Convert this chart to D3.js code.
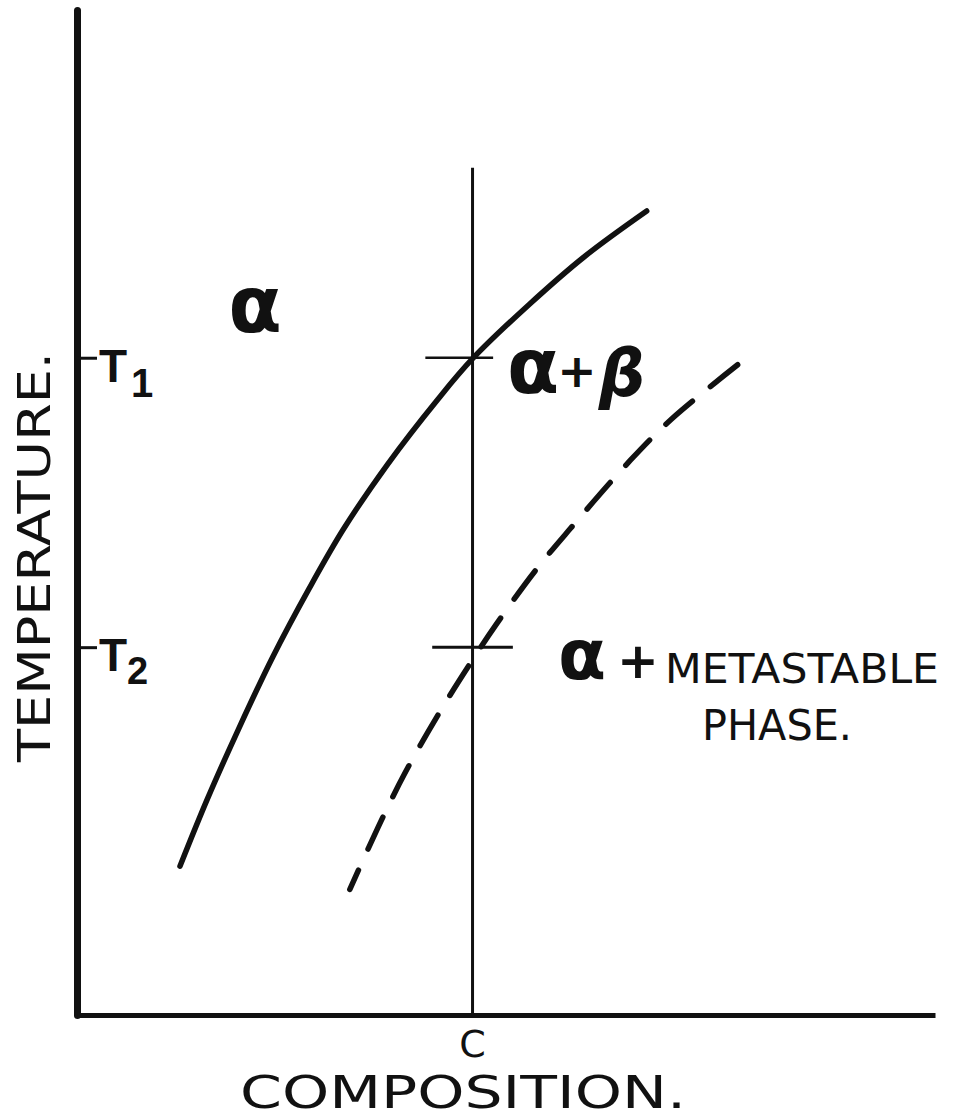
<!DOCTYPE html>
<html>
<head>
<meta charset="utf-8">
<script src="https://cdn.jsdelivr.net/npm/d3@7"></script>
<style>
  html, body { margin: 0; padding: 0; background: #fff; }
  svg { display: block; }
  text { fill: #111; }
</style>
</head>
<body>
<div id="chart"></div>
<script>
// ---------- data (schematic units: composition 0-100, temperature 0-100) ----------
const tempTickLabels = ["T", "T"];
const tempTickSubs = ["1", "2"];
const tempTickValues = [65.4, 36.6];
const compTickLabels = ["C"];
const compTickValues = [46.1];
const compLineTop = 84.3;

// equilibrium solvus (solid)
const solidComp = [66.4, 59.2, 52.7, 46.1, 42.0, 36.2, 31.1, 27.1, 22.8, 18.8, 15.2, 12.0];
const solidTemp = [80.0, 75.5, 70.7, 65.3, 61.2, 54.8, 48.4, 42.5, 35.6, 28.4, 21.5, 14.8];
// metastable solvus (dashed)
const dashComp = [77.0, 69.3, 64.5, 57.5, 53.5, 48.8, 46.3, 42.6, 38.3, 35.1, 31.8];
const dashTemp = [64.7, 59.3, 55.2, 48.4, 44.3, 38.8, 35.6, 30.6, 24.2, 18.7, 12.5];

// isothermal marks at T1 and T2 (composition extent)
const markT1 = [40.6, 48.5];
const markT2 = [41.4, 50.8];

const xTitle = "COMPOSITION.";
const yTitle = "TEMPERATURE.";
const regionAlpha = "α";
const regionAB = ["α", "+", "β"];
const regionMeta = ["α", "+", "METASTABLE", "PHASE."];

// ---------- drawing ----------
const W = 955, H = 1120;
const svg = d3.select("#chart").append("svg").attr("width", W).attr("height", H);
svg.append("rect").attr("width", W).attr("height", H).attr("fill", "#fff");

const x = d3.scaleLinear().domain([0, 100]).range([77, 935]);
const y = d3.scaleLinear().domain([0, 100]).range([1015, 10]);
const ink = "#111";

// Y axis
const yAxis = d3.axisLeft(y).tickValues(tempTickValues).tickSize(-20).tickSizeOuter(0).tickFormat("");
const gy = svg.append("g").attr("transform", `translate(${x(0)},0)`).call(yAxis);
gy.select(".domain").attr("stroke", ink).attr("stroke-width", 7).attr("stroke-linecap", "round");
gy.selectAll(".tick line").attr("stroke", ink).attr("stroke-width", 3);

// X axis
const xAxis = d3.axisBottom(x).tickValues([]).tickSizeOuter(0);
const gx = svg.append("g").attr("transform", `translate(0,${y(0)})`).call(xAxis);
gx.select(".domain").attr("stroke", ink).attr("stroke-width", 5);

// T labels
const tLab = svg.append("g").attr("font-family", "Liberation Sans, Arial, sans-serif").attr("font-weight", "bold");
tempTickValues.forEach((v, i) => {
  const t = tLab.append("text").attr("x", x(0) + 22).attr("y", y(v) + 24).attr("font-size", 46);
  t.append("tspan").text(tempTickLabels[i]);
  t.append("tspan").attr("dy", i === 0 ? 15 : 13).attr("dx", i === 0 ? 4 : 0)
    .attr("font-size", i === 0 ? 40 : 38).text(tempTickSubs[i]);
});

// composition line at C
compTickValues.forEach((c, i) => {
  svg.append("line").attr("x1", x(c)).attr("x2", x(c)).attr("y1", y(compLineTop)).attr("y2", y(0))
    .attr("stroke", ink).attr("stroke-width", 3);
  svg.append("text").attr("x", x(c)).attr("y", 1057).attr("text-anchor", "middle")
    .attr("font-family", "DejaVu Sans, sans-serif").attr("font-size", 38).text(compTickLabels[i]);
});

// isothermal marks
svg.append("line").attr("x1", x(markT1[0])).attr("x2", x(markT1[1]))
  .attr("y1", y(tempTickValues[0])).attr("y2", y(tempTickValues[0]))
  .attr("stroke", ink).attr("stroke-width", 2.5);
svg.append("line").attr("x1", x(markT2[0])).attr("x2", x(markT2[1]))
  .attr("y1", y(tempTickValues[1])).attr("y2", y(tempTickValues[1]))
  .attr("stroke", ink).attr("stroke-width", 3);

// curves
const line = d3.line().x(d => x(d[0])).y(d => y(d[1])).curve(d3.curveCatmullRom.alpha(0.5));
svg.append("path").datum(d3.zip(solidComp, solidTemp)).attr("d", line)
  .attr("fill", "none").attr("stroke", ink).attr("stroke-width", 5.5).attr("stroke-linecap", "round");
svg.append("path").datum(d3.zip(dashComp, dashTemp)).attr("d", line)
  .attr("fill", "none").attr("stroke", ink).attr("stroke-width", 5.5)
  .attr("stroke-dasharray", "35,23").attr("stroke-linecap", "round");

// axis titles
svg.append("text").attr("x", 463).attr("y", 1108).attr("text-anchor", "middle")
  .attr("font-family", "DejaVu Sans, sans-serif").attr("font-size", 44)
  .attr("textLength", 446).attr("lengthAdjust", "spacingAndGlyphs").text(xTitle);
svg.append("text").attr("transform", "translate(50,557) rotate(-90)").attr("text-anchor", "middle")
  .attr("font-family", "DejaVu Sans, sans-serif").attr("font-size", 45)
  .attr("textLength", 410).attr("lengthAdjust", "spacingAndGlyphs").text(yTitle);

// region labels
const sym = svg.append("g").attr("font-family", "DejaVu Sans, sans-serif").attr("font-weight", "bold").attr("text-anchor", "middle");
sym.append("text").attr("x", 255).attr("y", 332).attr("font-size", 78).text(regionAlpha);

sym.append("text").attr("x", 533).attr("y", 393).attr("font-size", 76).text(regionAB[0]);
sym.append("text").attr("x", 577).attr("y", 387).attr("font-size", 47).text(regionAB[1]);
sym.append("text").attr("x", 622).attr("y", 396).attr("font-size", 65).attr("font-style", "italic").text(regionAB[2]);

sym.append("text").attr("x", 582).attr("y", 679).attr("font-size", 70).text(regionMeta[0]);
sym.append("text").attr("x", 638).attr("y", 678).attr("font-size", 50).text(regionMeta[1]);

const lab = svg.append("g").attr("font-family", "DejaVu Sans, sans-serif").attr("font-size", 40);
lab.append("text").attr("x", 665).attr("y", 683).attr("textLength", 274).attr("lengthAdjust", "spacingAndGlyphs").text(regionMeta[2]);
lab.append("text").attr("x", 702).attr("y", 740).attr("font-size", 43).attr("textLength", 150).attr("lengthAdjust", "spacingAndGlyphs").text(regionMeta[3]);
</script>
</body>
</html>
